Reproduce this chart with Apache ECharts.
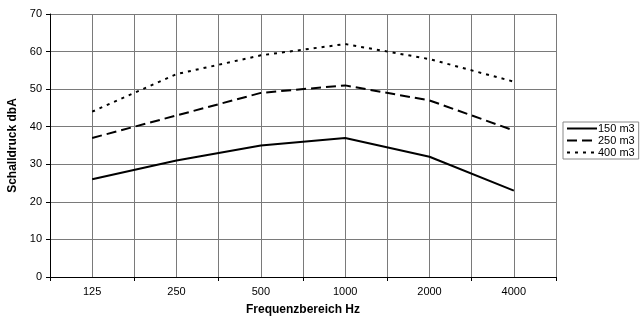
<!DOCTYPE html>
<html>
<head>
<meta charset="utf-8">
<script src="https://cdn.jsdelivr.net/npm/echarts@6/dist/echarts.min.js"></script>
<style>
html, body { margin: 0; padding: 0; background: #fff; }
#chart { width: 642px; height: 316px; }
</style>
</head>
<body>
<div id="chart"></div>
<script>
// Frequenzbaender (Hz)
var categories = ['125', '250', '500', '1000', '2000', '4000']
// Schalldruck je Raumvolumen
var vol150 = [26, 31, 35, 37, 32, 23]
var vol250 = [37, 43, 49, 51, 47, 39]
var vol400 = [44, 54, 59, 62, 58, 52]
var seriesNames = ['150 m3', '250 m3', '400 m3']

var font = 'Liberation Sans, Arial, sans-serif'
var gridColor = '#7a7a7a'

var chart = echarts.init(document.getElementById('chart'))

function lineSeries(name, data, type) {
    return {
        name: name,
        type: 'line',
        data: data,
        xAxisIndex: 0,
        symbol: 'none',
        silent: true,
        animation: false,
        itemStyle: { color: '#000' },
        lineStyle: { color: '#000', width: 2, type: type }
    }
}

var option = {
    backgroundColor: '#fff',
    animation: false,
    grid: { left: 50, right: 86, top: 14, bottom: 39, outerBoundsMode: 'none' },
    legend: {
        orient: 'vertical',
        left: 563,
        top: 122,
        itemWidth: 30,
        itemHeight: 10,
        itemGap: 1,
        padding: [1, 4, 1, 3],
        borderColor: '#888',
        borderWidth: 1,
        borderRadius: 0,
        itemStyle: { opacity: 0 },
        textStyle: { fontFamily: font, fontSize: 11, color: '#000', padding: [0, 0, 0, -4] },
        data: seriesNames
    },
    xAxis: [{
        type: 'category',
        data: categories,
        boundaryGap: true,
        name: 'Frequenzbereich Hz',
        nameLocation: 'middle',
        nameGap: 27,
        nameTextStyle: { fontFamily: font, fontSize: 12, fontWeight: 'bold', color: '#000' },
        axisLine: { lineStyle: { color: '#000', width: 1 } },
        axisTick: { show: true, length: 4, lineStyle: { color: '#000' } },
        axisLabel: { fontFamily: font, fontSize: 11, color: '#000', margin: 9 },
        splitLine: { show: false }
    }, {
        // Hilfsachse fuer die Gitterlinien (Mitte + Grenzen)
        type: 'value',
        min: 0,
        max: 12,
        interval: 1,
        position: 'bottom',
        axisLine: { show: false },
        axisTick: { show: false },
        axisLabel: { show: false },
        splitLine: { show: true, lineStyle: { color: gridColor, width: 1 } }
    }],
    yAxis: {
        type: 'value',
        min: 0,
        max: 70,
        interval: 10,
        name: 'Schalldruck dbA',
        nameLocation: 'middle',
        nameGap: 29,
        nameTextStyle: { fontFamily: font, fontSize: 12, fontWeight: 'bold', color: '#000' },
        axisLine: { show: true, lineStyle: { color: '#000', width: 1 } },
        axisTick: { show: true, length: 4, lineStyle: { color: '#000' } },
        axisLabel: { fontFamily: font, fontSize: 11, color: '#000', margin: 8 },
        splitLine: { show: true, lineStyle: { color: gridColor, width: 1 } }
    },
    series: [
        lineSeries(seriesNames[0], vol150, 'solid'),
        lineSeries(seriesNames[1], vol250, [10, 5]),
        lineSeries(seriesNames[2], vol400, [3, 5])
    ]
}

chart.setOption(option)
</script>
</body>
</html>
